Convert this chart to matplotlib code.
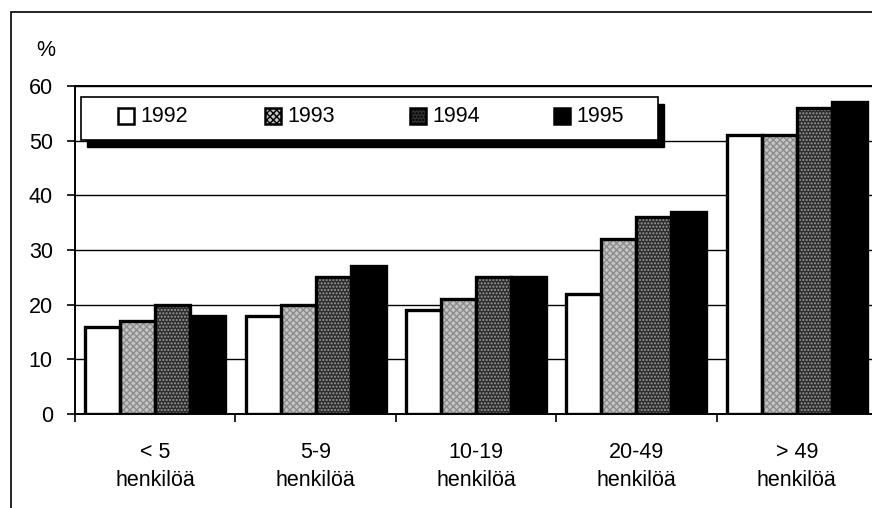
import numpy as np
import matplotlib
matplotlib.use("Agg")
import matplotlib.pyplot as plt
from matplotlib.patches import Rectangle

plt.rcParams['font.family'] = ['Liberation Sans', 'DejaVu Sans']

# data, % by company size
categories = ['< 5\nhenkilöä', '5-9\nhenkilöä', '10-19\nhenkilöä', '20-49\nhenkilöä', '> 49\nhenkilöä']
years = ['1992', '1993', '1994', '1995']
v1992 = [16, 18, 19, 22, 51]
v1993 = [17, 20, 21, 32, 51]
v1994 = [20, 25, 25, 36, 56]
v1995 = [18, 27, 25, 37, 57]
series = [v1992, v1993, v1994, v1995]

colors = ['white', '#c4c4c4', '#2e2e2e', 'black']
hatches = [None, 'xxxxx', '.....', None]
hatch_cols = ['black', '#8c8c8c', '#9a9a9a', 'black']

W, H = 872, 508
fs = 15.5
fig = plt.figure(figsize=(W / 100, H / 100), dpi=100)

def px(x0, y0, x1, y1):
    # pixel box (top-left origin) -> figure fraction
    return [x0 / W, 1 - y1 / H, (x1 - x0) / W, (y1 - y0) / H]

ax = fig.add_axes(px(75, 86, 877, 414))
ax.set_zorder(1)

x = np.arange(len(categories))
bw = 0.218
for i, vals in enumerate(series):
    pos = x + (i - 1.5) * bw
    # fill with texture
    ax.bar(pos, vals, bw, color=colors[i], hatch=hatches[i], edgecolor=hatch_cols[i],
           linewidth=0, zorder=3)
    # outline
    ax.bar(pos, vals, bw, fill=False, edgecolor='black', linewidth=2.4, zorder=4)

ax.set_xlim(-0.5, len(categories) - 0.5)
ax.set_ylim(0, 60)
ax.set_yticks(np.arange(0, 70, 10))
ax.yaxis.grid(True, color='black', linewidth=1.0, zorder=0)
ax.set_axisbelow(True)

ax.set_xticks(np.arange(-0.5, len(categories), 1.0))
ax.set_xticklabels([])
ax.set_xticks(x, minor=True)
ax.set_xticklabels(categories, minor=True, fontsize=fs, linespacing=1.45)
ax.tick_params(axis='x', which='minor', length=0, pad=20)
ax.tick_params(axis='x', which='major', direction='out', length=6, width=1.2)
ax.tick_params(axis='y', direction='out', length=6, width=1.2, labelsize=fs, pad=10)

for s in ['left', 'bottom', 'top']:
    ax.spines[s].set_linewidth(1.4)
ax.spines['right'].set_visible(False)

fig.text(46 / W, 1 - 50 / H, '%', fontsize=fs, ha='center', va='center')

# outer frame
fig.patches.append(Rectangle((11 / W, -0.1), 1.2, 1 - 12 / H + 0.1, transform=fig.transFigure,
                             fill=False, edgecolor='black', linewidth=1.2, zorder=0))

# legend with black drop shadow
lx0, ly0, lx1, ly1 = 81, 97, 658, 140
fig.patches.append(Rectangle(((lx0 + 6) / W, 1 - (ly1 + 7) / H), (lx1 - lx0) / W, (ly1 - ly0) / H,
                             transform=fig.transFigure, facecolor='black', edgecolor='black', zorder=5))
fig.patches.append(Rectangle((lx0 / W, 1 - ly1 / H), (lx1 - lx0) / W, (ly1 - ly0) / H,
                             transform=fig.transFigure, facecolor='white', edgecolor='black',
                             linewidth=1.2, zorder=6))
mk_x = [118, 265, 410, 554]
for i, yr in enumerate(years):
    fig.patches.append(Rectangle((mk_x[i] / W, 1 - 124 / H), 16 / W, 16 / H, transform=fig.transFigure,
                                 facecolor=colors[i], hatch=hatches[i], edgecolor='black',
                                 linewidth=1.8, zorder=7))
    fig.text((mk_x[i] + 22) / W, 1 - 116 / H, yr, fontsize=fs, ha='left', va='center', zorder=8)

fig.savefig('out.png', dpi=100)
